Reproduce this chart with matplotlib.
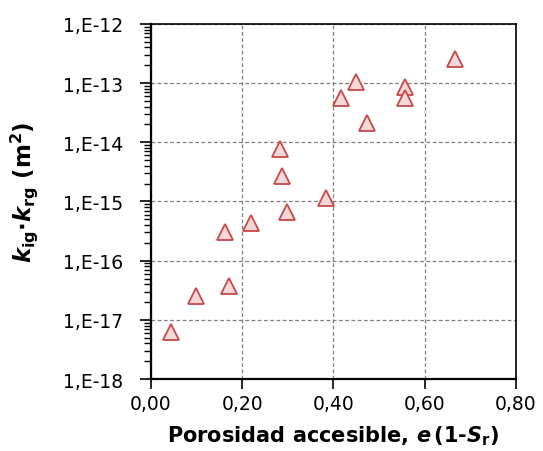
import matplotlib
matplotlib.use("Agg")
import matplotlib.pyplot as plt
from matplotlib.ticker import FixedLocator, FuncFormatter, LogLocator, NullFormatter, NullLocator
import numpy as np

plt.rcParams['font.family'] = ['DejaVu Sans']
plt.rcParams['mathtext.fontset'] = 'custom'
plt.rcParams['mathtext.it'] = 'DejaVu Sans:italic:bold'
plt.rcParams['mathtext.bf'] = 'DejaVu Sans:bold'
plt.rcParams['mathtext.rm'] = 'DejaVu Sans:bold'

# data
porosity = [0.043, 0.099, 0.172, 0.162, 0.219, 0.299, 0.384, 0.288, 0.283,
            0.417, 0.449, 0.474, 0.557, 0.557, 0.667]
perm = [6.3e-18, 2.5e-17, 3.7e-17, 3.0e-16, 4.3e-16, 6.7e-16, 1.16e-15, 2.7e-15, 7.7e-15,
        5.6e-14, 1.06e-13, 2.1e-14, 8.7e-14, 5.5e-14, 2.56e-13]

x_ticks = [0.0, 0.2, 0.4, 0.6, 0.8]
y_exps = [-18, -17, -16, -15, -14, -13, -12]

fig = plt.figure(figsize=(5.43, 4.52), dpi=100)
ax = fig.add_axes([0.278, 0.159, 0.672, 0.786])

ax.plot(porosity, perm, linestyle='none', marker='^', markersize=11.5,
        markerfacecolor='#f2d9d9', markeredgecolor='#c9484a', markeredgewidth=1.3, zorder=3)

ax.set_yscale('log')
ax.set_xlim(0, 0.8)
ax.set_ylim(10.0**y_exps[0], 10.0**y_exps[-1])

ax.xaxis.set_major_locator(FixedLocator(x_ticks))
ax.xaxis.set_minor_locator(NullLocator())
ax.xaxis.set_major_formatter(FuncFormatter(lambda v, p: f"{v:.2f}".replace('.', ',')))

ax.yaxis.set_major_locator(FixedLocator([10.0**e for e in y_exps]))
ax.yaxis.set_minor_locator(LogLocator(base=10, subs=np.arange(2, 10), numticks=20))
ax.yaxis.set_minor_formatter(NullFormatter())
ax.yaxis.set_major_formatter(FuncFormatter(lambda v, p: f"1,E{int(round(np.log10(v)))}"))

ax.tick_params(axis='both', which='major', direction='out', length=7, width=1.2,
               labelsize=13.5, colors='black')
ax.tick_params(axis='x', which='major', pad=4)
ax.tick_params(axis='y', which='major', length=8, pad=12)
ax.tick_params(axis='y', which='minor', direction='out', length=5, width=1.0)

ax.grid(True, which='major', linestyle=(0, (3, 2)), color='#7f7f7f', linewidth=0.9)
ax.set_axisbelow(True)

for side in ['left', 'bottom']:
    ax.spines[side].set_linewidth(1.6)
for side in ['top', 'right']:
    ax.spines[side].set_linewidth(1.2)

ax.set_xlabel(r'Porosidad accesible, $\mathit{e}\,$(1-$\mathit{S}_\mathbf{r}$)',
              fontsize=15, fontweight='bold', labelpad=7)
ax.set_ylabel(r'$\mathit{k}_\mathbf{ig}\mathbf{\cdot}\mathit{k}_\mathbf{rg}$ (m$^\mathbf{2}$)',
              fontsize=16.5, fontweight='bold')
ax.yaxis.set_label_coords(-0.304, 0.528)

fig.savefig('out.png', dpi=100)
